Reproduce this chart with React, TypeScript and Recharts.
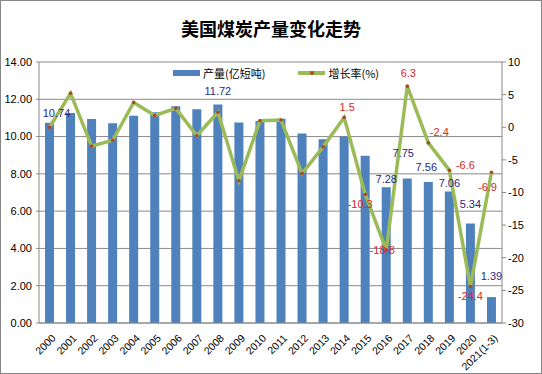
import { ComposedChart, Bar, Line, XAxis, YAxis, CartesianGrid, LabelList } from 'recharts'

const years = ['2000', '2001', '2002', '2003', '2004', '2005', '2006', '2007', '2008', '2009', '2010',
  '2011', '2012', '2013', '2014', '2015', '2016', '2017', '2018', '2019', '2020', '2021(1-3)']

// 产量 (亿短吨)
const production = [10.74, 11.27, 10.94, 10.72, 11.12, 11.31, 11.63, 11.46, 11.72, 10.75, 10.84,
  10.96, 10.16, 9.85, 10.0, 8.97, 7.28, 7.75, 7.56, 7.06, 5.34, 1.39]

// 增长率 (%)
const growth = [0.0, 5.2, -2.9, -2.0, 3.8, 1.8, 2.9, -1.3, 2.3, -8.2, 1.0,
  1.1, -7.1, -3.0, 1.5, -10.3, -18.8, 6.3, -2.4, -6.6, -24.4, -6.9]

const leftTicks = [0, 2, 4, 6, 8, 10, 12, 14]
const rightTicks = [-30, -25, -20, -15, -10, -5, 0, 5, 10]

// which points carry a data label in the original
const prodLabelYears = ['2000', '2008', '2016', '2017', '2018', '2019', '2020', '2021(1-3)']
const growthLabelYears = ['2014', '2015', '2016', '2017', '2018', '2019', '2020', '2021(1-3)']

const chartData = years.map((year, i) => ({ year, production: production[i], growth: growth[i] }))

// hand placement of labels, like the Excel original (dx, dy)
const prodShift: Record<string, [number, number]> = {
  '2000': [7, -10], '2008': [0, -14], '2016': [0, -8], '2017': [-4, -26],
  '2018': [-2, -15], '2019': [0, -8], '2020': [0, -19], '2021(1-3)': [0, -21],
}
const growthShift: Record<string, [number, number]> = {
  '2014': [3, -10], '2015': [-5, 10], '2016': [-4, 0], '2017': [1, -13],
  '2018': [11, -11], '2019': [16, -5], '2020': [0, 10], '2021(1-3)': [-4, 15],
}

const font = '"Liberation Sans", Arial, sans-serif'

const ProdLabel = (props: any) => {
  const { x, y, width, index } = props
  const year = years[index]
  if (!prodLabelYears.includes(year)) return null
  const [dx, dy] = prodShift[year]
  return (
    <text x={x + width / 2 + dx} y={y + dy} textAnchor="middle" dominantBaseline="central"
      fontSize={11} fontFamily={font} fill="#1F2A86">
      {production[index].toFixed(2)}
    </text>
  )
}

const GrowthLabel = (props: any) => {
  const { x, y, index } = props
  const year = years[index]
  if (!growthLabelYears.includes(year)) return null
  const [dx, dy] = growthShift[year]
  return (
    <text x={x + dx} y={y + dy} textAnchor="middle" dominantBaseline="central"
      fontSize={11} fontFamily={font} fill="#D9262B">
      {growth[index].toFixed(1)}
    </text>
  )
}

const YearTick = (props: any) => {
  const { x, y, payload } = props
  return (
    <text transform={`translate(${x + 4}, ${y + 5}) rotate(-45)`} textAnchor="end" dominantBaseline="central"
      fontSize={10.5} fontFamily={font} fill="#000">
      {payload.value}
    </text>
  )
}

const Dot = (props: any) => {
  const { cx, cy } = props
  return <circle cx={cx} cy={cy} r={1.8} fill="#B0442A" />
}

export default function App() {
  return (
    <div style={{ position: 'absolute', left: 0, top: 0, width: 542, height: 374, background: '#fff' }}>
      <ComposedChart width={542} height={374} data={chartData} margin={{ top: 62, right: 0, bottom: 0, left: 0 }}>
        <CartesianGrid yAxisId="left" vertical={false} stroke="#8a8a8a" />
        <XAxis dataKey="year" height={51} interval={0} tick={<YearTick />} tickLine={false} axisLine={{ stroke: '#8a8a8a' }} />
        <YAxis yAxisId="left" width={39} domain={[0, 14]} ticks={leftTicks} tickFormatter={(v: number) => v.toFixed(2)}
          tick={{ fontSize: 11, fill: '#000', fontFamily: font }} tickSize={3} tickMargin={4}
          stroke="#8a8a8a" axisLine={{ stroke: '#8a8a8a' }} />
        <YAxis yAxisId="right" orientation="right" width={40} domain={[-30, 10]} ticks={rightTicks}
          tick={{ fontSize: 11, fill: '#000', fontFamily: font }} tickSize={4} tickMargin={2}
          stroke="#8a8a8a" axisLine={{ stroke: '#8a8a8a' }} />
        <Bar yAxisId="left" dataKey="production" fill="#4F81BD" barSize={9} isAnimationActive={false}>
          <LabelList dataKey="production" content={<ProdLabel />} />
        </Bar>
        <Line yAxisId="right" dataKey="growth" stroke="#9BBB59" strokeWidth={3.5} dot={<Dot />} activeDot={false}
          isAnimationActive={false}>
          <LabelList dataKey="growth" content={<GrowthLabel />} />
        </Line>
      </ComposedChart>

      <div style={{ position: 'absolute', top: 16, left: 0, width: 542, textAlign: 'center', fontSize: 18,
        fontWeight: 700, fontFamily: '"Noto Sans CJK SC", sans-serif', color: '#000', lineHeight: '24px' }}>
        美国煤炭产量变化走势
      </div>

      <div style={{ position: 'absolute', top: 65, left: 173, display: 'flex', alignItems: 'center',
        fontSize: 11, fontFamily: '"Noto Sans CJK SC", sans-serif', color: '#000', lineHeight: '16px' }}>
        <span style={{ display: 'inline-block', width: 27, height: 6, background: '#4F81BD', marginRight: 3 }} />
        <span>产量(亿短吨)</span>
        <span style={{ display: 'inline-block', width: 27, height: 3.5, background: '#9BBB59', marginLeft: 33,
          marginRight: 3, position: 'relative' }}>
          <span style={{ position: 'absolute', left: 12, top: 0, width: 3.5, height: 3.5, borderRadius: 2, background: '#B0442A' }} />
        </span>
        <span>增长率(%)</span>
      </div>

      <div style={{ position: 'absolute', left: 0, top: 0, width: 542, height: 374, boxSizing: 'border-box',
        border: '1px solid #868686', pointerEvents: 'none' }} />
    </div>
  )
}
